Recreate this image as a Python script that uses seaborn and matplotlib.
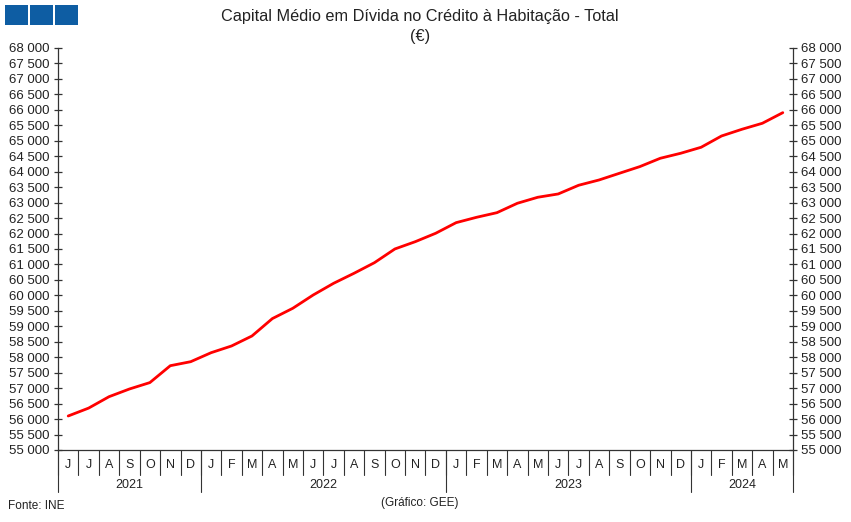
import matplotlib
matplotlib.use("Agg")
import matplotlib.pyplot as plt
import matplotlib.transforms as mtransforms
from matplotlib.lines import Line2D
from matplotlib.patches import Rectangle
import seaborn as sns
import pandas as pd

# ---- data ----
month_labels = ["J", "J", "A", "S", "O", "N", "D",
                "J", "F", "M", "A", "M", "J", "J", "A", "S", "O", "N", "D",
                "J", "F", "M", "A", "M", "J", "J", "A", "S", "O", "N", "D",
                "J", "F", "M", "A", "M"]
year_labels = ["2021", "2022", "2023", "2024"]
year_counts = [7, 12, 12, 5]
values = [56100, 56355, 56724, 56973, 57180, 57726, 57856,
          58147, 58364, 58687, 59250, 59583, 60013, 60391, 60715, 61058, 61501, 61737, 62009,
          62352, 62525, 62675, 62979, 63173, 63280, 63561, 63732, 63949, 64165, 64434, 64596,
          64790, 65155, 65372, 65566, 65909]

sns.set_style("white")
plt.rcParams['font.family'] = ['Liberation Sans', 'DejaVu Sans']

W, H = 851, 522
fig = plt.figure(figsize=(W / 100, H / 100), dpi=100)
ax = fig.add_axes([58 / W, 1 - 450 / H, (793 - 58) / W, (450 - 48) / H])

df = pd.DataFrame({"idx": list(range(len(values))), "valor": values})
sns.lineplot(data=df, x="idx", y="valor", color="#FF0000", linewidth=2.0, ax=ax)

n = len(values)
ax.set_xlim(-0.5, n - 0.5)
ax.set_ylim(55000, 68000)
ax.set_yticks(list(range(55000, 68001, 500)))
ax.set_yticklabels([f"{v:,}".replace(",", " ") for v in range(55000, 68001, 500)])
ax.set_xticks([])
ax.set_xlabel("")
ax.set_ylabel("")
ax.grid(False)

spine_col = "#333333"
for s in ["left", "right", "bottom"]:
    ax.spines[s].set_visible(True)
    ax.spines[s].set_color(spine_col)
    ax.spines[s].set_linewidth(0.9)
ax.spines["top"].set_visible(False)

ax.tick_params(axis="y", which="major", left=True, right=True, labelleft=True, labelright=True,
               direction="inout", length=6, width=0.9, color=spine_col, pad=3,
               labelsize=9.5, labelcolor="#222222")

trans = mtransforms.blended_transform_factory(ax.transData, ax.transAxes)
ph = 402.0
# month separators
for i in range(n + 1):
    b = i - 0.5
    ax.add_line(Line2D([b, b], [0, -25 / ph], transform=trans, color=spine_col,
                       linewidth=0.8, clip_on=False))
# month labels
for i, m in enumerate(month_labels):
    ax.text(i, -15 / ph, m, transform=trans, ha="center", va="center",
            fontsize=9, color="#222222")
# year separators and labels
start = 0
for y, c in zip(year_labels, year_counts):
    b0 = start - 0.5
    b1 = start + c - 0.5
    ax.add_line(Line2D([b0, b0], [0, -42 / ph], transform=trans, color=spine_col,
                       linewidth=0.8, clip_on=False))
    ax.text((b0 + b1) / 2, -35 / ph, y, transform=trans, ha="center", va="center",
            fontsize=9, color="#222222")
    start += c
ax.add_line(Line2D([n - 0.5, n - 0.5], [0, -42 / ph], transform=trans, color=spine_col,
                   linewidth=0.8, clip_on=False))

# titles
fig.text(420 / W, 1 - 17 / H, "Capital Médio em Dívida no Crédito à Habitação - Total",
         ha="center", va="center", fontsize=11.7, color="#222222")
fig.text(420 / W, 1 - 37 / H, "(€)", ha="center", va="center", fontsize=11.7, color="#222222")

# footer
fig.text(8 / W, 1 - 506 / H, "Fonte: INE", ha="left", va="center", fontsize=8.5, color="#222222")
fig.text(420 / W, 1 - 503 / H, "(Gráfico: GEE)", ha="center", va="center", fontsize=8.5,
         color="#222222")

# logo squares
for x0 in [5, 30, 55]:
    fig.patches.append(Rectangle((x0 / W, 1 - 25 / H), 23 / W, 20 / H,
                                 transform=fig.transFigure, facecolor="#0E5DA3",
                                 edgecolor="none"))

fig.savefig("out.png", dpi=100)
